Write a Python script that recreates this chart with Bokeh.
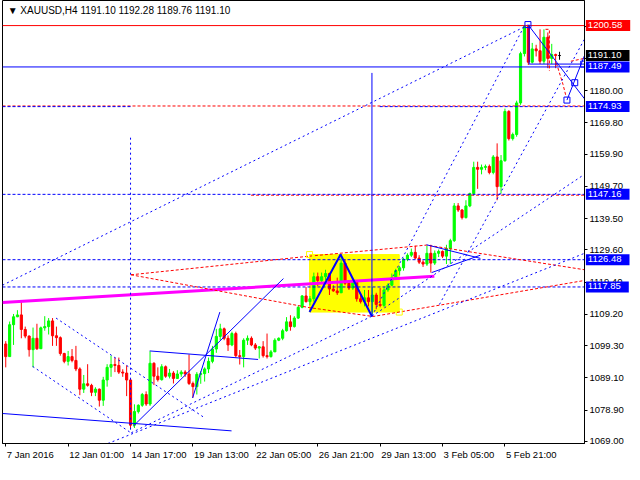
from bokeh.plotting import figure
from bokeh.models import Range1d, FixedTicker, PrintfTickFormatter, Label
from bokeh.embed import file_html
from bokeh.resources import INLINE

# ---------------- data (XAUUSD H4) ----------------
first_open = 1099.8
closes = [1095.8, 1105.9, 1108.4, 1109.0, 1104.4, 1102.3, 1098.0, 1101.6, 1098.3, 1104.9,
          1105.3, 1107.1, 1102.4, 1101.8, 1096.8, 1094.3, 1095.8, 1094.6, 1091.9, 1085.5,
          1087.2, 1086.7, 1084.5, 1085.5, 1082.0, 1088.4, 1092.4, 1093.3, 1093.0, 1090.9,
          1090.6, 1088.4, 1074.1, 1078.4, 1080.4, 1083.8, 1080.8, 1093.7, 1089.6, 1088.5,
          1092.6, 1089.6, 1090.6, 1088.9, 1090.3, 1090.9, 1090.3, 1087.3, 1086.3, 1090.2,
          1090.4, 1091.9, 1094.3, 1098.2, 1102.2, 1104.6, 1101.6, 1099.5, 1103.1, 1096.1,
          1095.8, 1101.0, 1101.6, 1099.5, 1098.5, 1098.9, 1096.1, 1095.8, 1097.3, 1101.0,
          1101.6, 1104.0, 1106.8, 1105.3, 1108.0, 1111.4, 1115.0, 1113.2, 1114.1, 1121.1,
          1119.9, 1121.1, 1122.1, 1117.2, 1116.6, 1116.0, 1125.4, 1119.0, 1117.5, 1119.3,
          1114.1, 1113.2, 1114.4, 1113.2, 1115.3, 1112.3, 1112.0, 1116.9, 1118.4, 1120.8,
          1123.0, 1123.9, 1126.6, 1127.9, 1128.8, 1127.0, 1125.7, 1125.1, 1128.5, 1125.4,
          1128.5, 1129.1, 1127.6, 1130.0, 1132.5, 1143.5, 1142.2, 1139.8, 1143.5, 1147.4,
          1155.7, 1155.1, 1155.7, 1156.0, 1154.1, 1159.0, 1149.6, 1157.8, 1173.4, 1164.8,
          1166.1, 1176.1, 1191.7, 1200.3, 1189.0, 1193.2, 1192.6, 1189.3, 1196.9, 1190.2,
          1191.4, 1191.1, 1191.1]
highs = [1100.7, 1106.9, 1109.3, 1110.5, 1113.2, 1105.3, 1102.5, 1105.0, 1106.2, 1105.3,
         1108.6, 1108.0, 1108.0, 1105.3, 1102.2, 1097.0, 1097.6, 1098.2, 1099.2, 1092.4,
         1090.0, 1093.4, 1087.2, 1086.1, 1085.7, 1089.4, 1093.4, 1096.1, 1095.5, 1095.5,
         1091.8, 1093.0, 1088.8, 1080.7, 1080.7, 1084.3, 1084.8, 1097.5, 1094.0, 1092.4,
         1093.4, 1093.0, 1091.9, 1091.2, 1091.5, 1091.5, 1091.5, 1096.5, 1087.9, 1090.9,
         1091.2, 1092.4, 1095.5, 1099.2, 1104.6, 1106.2, 1105.0, 1102.5, 1103.7, 1103.7,
         1097.9, 1101.6, 1102.5, 1102.2, 1100.1, 1099.1, 1100.7, 1103.1, 1097.9, 1101.6,
         1101.9, 1104.6, 1108.3, 1108.9, 1108.6, 1112.0, 1115.3, 1117.8, 1115.0, 1122.4,
         1122.4, 1122.4, 1123.3, 1122.3, 1118.4, 1120.8, 1128.2, 1126.6, 1119.6, 1119.9,
         1119.6, 1115.3, 1116.9, 1116.9, 1117.8, 1116.0, 1117.5, 1117.8, 1119.0, 1122.1,
         1123.6, 1124.5, 1127.0, 1128.5, 1130.0, 1130.9, 1127.9, 1126.3, 1130.9, 1131.2,
         1129.4, 1129.7, 1129.4, 1131.2, 1133.1, 1144.4, 1144.4, 1142.5, 1145.3, 1147.7,
         1157.5, 1157.5, 1156.6, 1156.6, 1156.6, 1159.6, 1163.3, 1159.6, 1174.3, 1173.8,
         1166.7, 1176.8, 1192.3, 1200.58, 1200.3, 1195.1, 1194.5, 1199.4, 1199.4, 1198.4,
         1194.8, 1191.7, 1192.28]
lows = [1092.4, 1095.8, 1099.5, 1108.3, 1101.6, 1101.6, 1095.8, 1092.4, 1097.9, 1098.2,
        1104.0, 1102.8, 1099.2, 1099.2, 1096.1, 1093.7, 1093.0, 1094.0, 1091.2, 1083.6,
        1084.3, 1086.3, 1083.3, 1083.3, 1080.0, 1080.2, 1086.3, 1089.4, 1090.9, 1090.3,
        1089.4, 1083.3, 1073.2, 1073.2, 1077.8, 1079.9, 1080.2, 1080.2, 1086.8, 1087.9,
        1088.2, 1089.1, 1088.9, 1087.3, 1088.8, 1089.4, 1089.4, 1086.8, 1082.8, 1083.8,
        1087.2, 1087.9, 1090.6, 1093.7, 1097.0, 1101.0, 1101.0, 1097.6, 1099.1, 1095.5,
        1093.3, 1092.4, 1099.5, 1099.1, 1097.9, 1095.2, 1095.5, 1095.2, 1095.5, 1097.3,
        1100.7, 1101.0, 1103.7, 1104.0, 1105.0, 1107.7, 1111.1, 1112.9, 1112.0, 1113.2,
        1118.1, 1119.3, 1119.9, 1115.3, 1116.3, 1115.3, 1116.0, 1118.4, 1116.9, 1116.9,
        1113.2, 1112.6, 1111.7, 1111.7, 1109.2, 1110.8, 1111.4, 1111.4, 1116.3, 1118.1,
        1120.8, 1121.5, 1123.0, 1126.0, 1127.3, 1126.6, 1125.1, 1124.2, 1124.5, 1122.4,
        1124.8, 1127.3, 1127.0, 1125.1, 1125.1, 1132.1, 1141.6, 1139.2, 1139.5, 1143.1,
        1146.8, 1148.9, 1153.5, 1154.8, 1153.5, 1153.5, 1145.3, 1147.4, 1157.5, 1164.2,
        1164.2, 1165.4, 1175.5, 1190.8, 1188.1, 1188.6, 1190.8, 1188.4, 1188.4, 1187.1,
        1188.4, 1187.1, 1189.76]
opens = [first_open] + closes[:-1]

x_tick_pos = [0, 16, 32, 48, 64, 80, 96, 112, 128]
x_tick_labels = ["7 Jan 2016", "12 Jan 01:00", "14 Jan 17:00", "19 Jan 13:00", "22 Jan 05:00",
                 "26 Jan 21:00", "29 Jan 13:00", "3 Feb 05:00", "5 Feb 21:00"]
y_ticks = [1069.0, 1078.9, 1089.1, 1099.3, 1109.2, 1119.4, 1129.6, 1139.5, 1149.7,
           1159.9, 1169.8, 1180.0, 1190.2, 1200.3]

# price marker boxes on the right scale
marker_prices = [1200.58, 1191.10, 1187.49, 1174.93, 1147.16, 1126.48, 1117.85]
marker_colors = ["#ff0000", "#000000", "#0000ff", "#0000ff", "#0000ff", "#0000ff", "#0000ff"]

# horizontal levels
blue_level_solid = 1187.49
red_level_solid = 1200.58
blue_dashed_levels = [1147.16, 1126.48, 1117.85]
red_dashed_full = 1175.13
blue_1174_segments = [(-0.83, 32.2), (95.9, 148.4)]
red_1147_segment = (62.9, 148.4, 1146.9)

# analysis objects: (bar index, price)
magenta_x = [-0.83, 109.9]
magenta_y = [1112.9, 1121.2]
yellow_box = (77.9, 100.9, 1109.9, 1128.1)
zigzag_x = [77.9, 85.85, 93.9]
zigzag_y = [1109.9, 1128.1, 1108.5]

solid_blue_lines = [
    ([-0.83, 57.9], [1077.8, 1072.3]),
    ([36.9, 64.7], [1097.6, 1094.9]),
    ([32.7, 71.2], [1073.8, 1120.5]),
    ([47.9, 54.9], [1082.7, 1109.9]),
    ([93.9, 93.9], [1185.6, 1108.6]),
    ([133.9, 148.4], [1200.9, 1177.4]),
    ([134.2, 134.2, 148.4], [1200.9, 1188.4, 1188.4]),
    ([143.9, 148.4], [1177.0, 1191.1]),
    ([107.9, 121.7], [1131.2, 1126.9]),
    ([109.2, 121.7], [1122.4, 1127.9]),
]
dashed_blue_lines = [
    ([-0.83, 133.7], [1118.4, 1200.6]),
    ([26.2, 148.4], [1068.3, 1128.5]),
    ([32.2, 93.9], [1071.7, 1108.6]),
    ([93.9, 132.9], [1108.6, 1200.3]),
    ([111.2, 148.4], [1112.3, 1196.3]),
    ([93.9, 148.4], [1108.6, 1153.5]),
    ([12.9, 50.9], [1108.0, 1076.5]),
    ([6.9, 32.2], [1092.7, 1071.6]),
    ([32.0, 32.0], [1165.1, 1072.3]),
]
dashed_red_lines = [
    ([32.1, 77.9, 107.9, 148.4], [1121.7, 1127.6, 1131.1, 1123.3]),
    ([32.1, 77.9, 94.2, 148.4], [1121.7, 1111.3, 1108.5, 1119.9]),
    ([138.4, 139.4, 139.4], [1199.4, 1199.4, 1186.2]),
    ([141.2, 142.9, 143.7], [1188.7, 1181.9, 1178.0]),
    ([144.9, 148.4], [1189.3, 1190.2]),
]
blue_squares_x = [133.9, 145.9, 143.9, 148.2]
blue_squares_y = [1200.9, 1182.5, 1177.0, 1188.4]
yellow_squares_x = [77.9, 100.9]
yellow_squares_y = [1128.1, 1109.9]

title_text = "\u25bc XAUUSD,H4  1191.10 1192.28 1189.76 1191.10"

FONT = "Liberation Sans"
FONT_PX = 9.5
X0, X1 = -0.83, 148.4
FRAME_W = 582

# approximate glyph advance widths (em) for placing left-aligned date labels
_adv = {" ": 0.278, ":": 0.278, ".": 0.278, "J": 0.5, "F": 0.611, "a": 0.556, "n": 0.556,
        "e": 0.556, "b": 0.556}
def text_px(s):
    return sum(_adv.get(ch, 0.556) for ch in s) * FONT_PX

bar_px = FRAME_W / (X1 - X0)
label_centers = [t + (text_px(s) / 2 + 1) / bar_px for t, s in zip(x_tick_pos, x_tick_labels)]

p = figure(x_range=Range1d(X0, X1), y_range=Range1d(1068.3, 1208.52),
           frame_width=FRAME_W, frame_height=443,
           min_border_left=2, min_border_top=0, min_border_right=0, min_border_bottom=18,
           output_backend="svg", toolbar_location=None,
           x_axis_location="below", y_axis_location="right")
p.grid.visible = False
p.outline_line_color = "black"
p.background_fill_color = "white"
p.border_fill_color = "white"

# yellow rectangle (background object)
p.quad(left=[yellow_box[0]], right=[yellow_box[1]], bottom=[yellow_box[2]], top=[yellow_box[3]],
       fill_color="#ffff00", line_color="#ffff00")

# candles
idx = list(range(len(closes)))
colors = []
for o, c in zip(opens, closes):
    if c > o:
        colors.append("#00ff00")
    elif c < o:
        colors.append("#ff0000")
    else:
        colors.append("#000000")
p.segment(x0=idx, x1=idx, y0=lows, y1=highs, line_color=colors, line_width=1)
tops = [max(o, c) for o, c in zip(opens, closes)]
bots = [min(o, c) for o, c in zip(opens, closes)]
p.vbar(x=idx, width=0.55, top=tops, bottom=bots, fill_color=colors, line_color=colors)

# horizontal levels
p.line([X0, X1], [red_level_solid] * 2, line_color="#ff0000", line_width=1)
p.line([X0, X1], [blue_level_solid] * 2, line_color="#0000ff", line_width=1)
p.line([X0, X1], [red_dashed_full] * 2, line_color="#ff0000", line_dash="3 2")
for a, b in blue_1174_segments:
    p.line([a, b], [1174.93] * 2, line_color="#0000ff", line_dash="3 2")
p.line([red_1147_segment[0], red_1147_segment[1]], [red_1147_segment[2]] * 2,
       line_color="#ff0000", line_dash="3 2")
for lv in blue_dashed_levels:
    p.line([X0, X1], [lv, lv], line_color="#0000ff", line_dash="3 2")

# magenta line
p.line(magenta_x, magenta_y, line_color="#ff00ff", line_width=3)

for xs, ys in dashed_red_lines:
    p.line(xs, ys, line_color="#ff0000", line_dash="3 2")
for xs, ys in dashed_blue_lines:
    p.line(xs, ys, line_color="#0000ff", line_dash="2 3")
for xs, ys in solid_blue_lines:
    p.line(xs, ys, line_color="#0000ff", line_width=1)
p.line(zigzag_x, zigzag_y, line_color="#0000ff", line_width=2)

p.scatter(blue_squares_x, blue_squares_y, marker="square", size=6, fill_color=None,
          line_color="#0000ff", line_width=1)
p.scatter(yellow_squares_x, yellow_squares_y, marker="square", size=6, fill_color=None,
          line_color="#ffff00", line_width=1)

# axes
xa = p.xaxis[0]
xa.ticker = FixedTicker(ticks=label_centers, minor_ticks=x_tick_pos)
xa.major_label_overrides = {c: s for c, s in zip(label_centers, x_tick_labels)}
xa.major_tick_line_color = None
xa.minor_tick_line_color = "black"
xa.minor_tick_in = 0
xa.minor_tick_out = 3
ya = p.yaxis[0]
ya.ticker = FixedTicker(ticks=y_ticks)
ya.formatter = PrintfTickFormatter(format="%.2f")
ya.major_tick_line_color = "black"
ya.minor_tick_line_color = None
for ax in (xa, ya):
    ax.axis_line_color = "black"
    ax.major_tick_in = 0
    ax.major_tick_out = 3
    ax.major_label_text_font = FONT
    ax.major_label_text_font_size = f"{FONT_PX}px"
    ax.major_label_text_color = "black"
    ax.major_label_standoff = 2

# right-scale price markers (placed in the right side panel so they are not clipped)
for pr, col in zip(marker_prices, marker_colors):
    p.add_layout(Label(x=X1 + 0.35, y=pr, x_units="data", y_units="data", text=f"{pr:.2f}",
                       text_align="left", text_baseline="middle", text_color="white",
                       text_font=FONT, text_font_size=f"{FONT_PX}px",
                       background_fill_color=col, padding=(2, 8, 2, 3)), "right")

p.add_layout(Label(x=0.5, y=1205.4, text=title_text, text_align="left",
                   text_baseline="middle", text_font=FONT, text_font_size="10px",
                   text_color="black"))

open("out.html", "w").write(file_html(p, INLINE))
